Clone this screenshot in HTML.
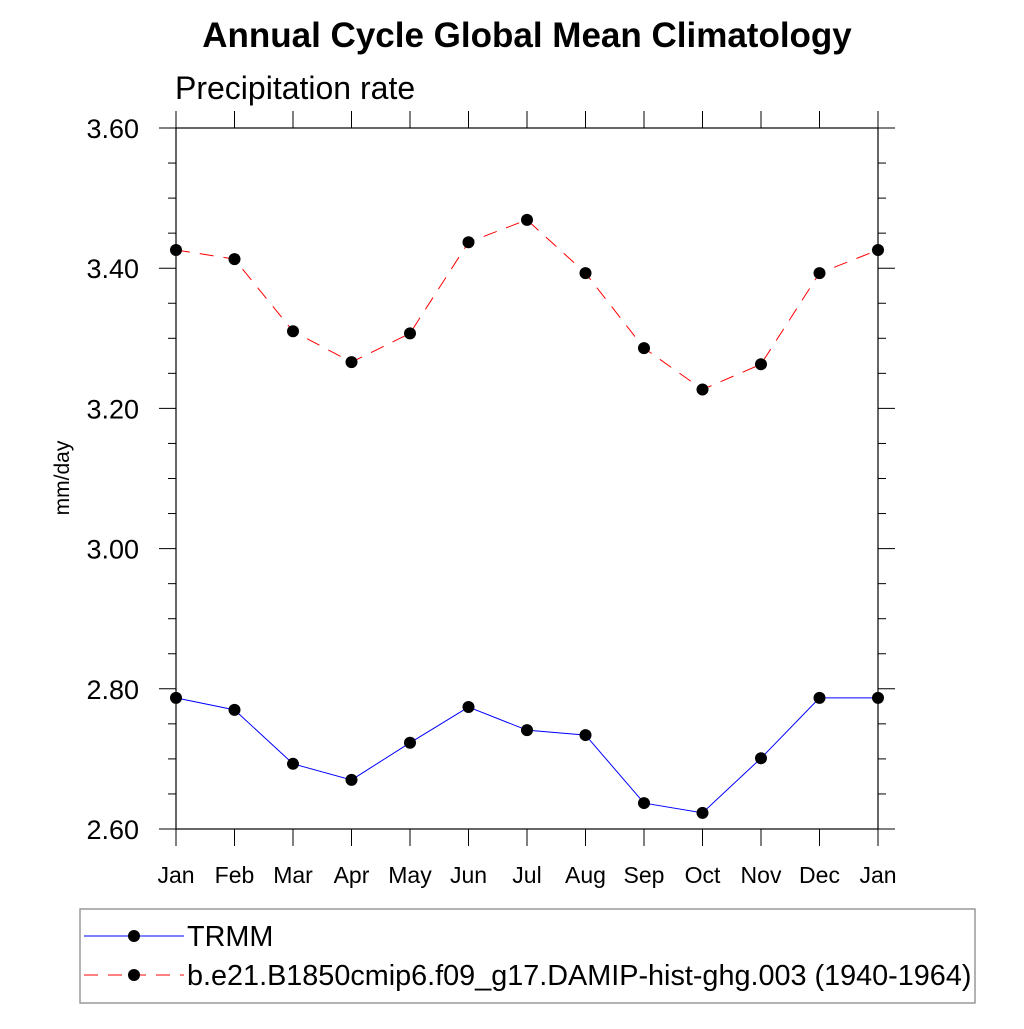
<!DOCTYPE html>
<html><head><meta charset="utf-8"><style>
body{margin:0;background:#fff;}
svg text{font-family:"Liberation Sans",sans-serif;}
</style></head><body>
<svg id="chart" width="1024" height="1024" xmlns="http://www.w3.org/2000/svg">
<text x="527" y="47" font-size="35" font-weight="bold" text-anchor="middle">Annual Cycle Global Mean Climatology</text>
<text x="175" y="99" font-size="32">Precipitation rate</text>
<text transform="translate(69,478) rotate(-90)" font-size="21" text-anchor="middle">mm/day</text>
<g id="axes"></g>
<g id="series"></g>
<rect x="80" y="909" width="895" height="94" fill="none" stroke="#999" stroke-width="1.5"/>
<g>
<line x1="84" y1="936" x2="184" y2="936" stroke="#00f" stroke-width="1"/>
<circle cx="134" cy="936" r="6" fill="#000"/>
<text x="187" y="946" font-size="28.8">TRMM</text>
</g>
<g>
<line x1="84" y1="975" x2="184" y2="975" stroke="#f00" stroke-width="1" stroke-dasharray="14,10"/>
<circle cx="134" cy="975" r="6" fill="#000"/>
<text x="187" y="985" font-size="28.8">b.e21.B1850cmip6.f09_g17.DAMIP-hist-ghg.003 (1940-1964)</text>
</g>
</svg>
<script>
const months=["Jan","Feb","Mar","Apr","May","Jun","Jul","Aug","Sep","Oct","Nov","Dec","Jan"];
const trmm=[2.787,2.770,2.693,2.670,2.723,2.774,2.741,2.734,2.637,2.623,2.701,2.787,2.787];
const model=[3.426,3.413,3.310,3.266,3.307,3.437,3.469,3.393,3.286,3.227,3.263,3.393,3.426];
const yTicks=[2.60,2.80,3.00,3.20,3.40,3.60];
const yMin=2.6,yMax=3.6;
const L=176,R=878,T=128,B=829;
const NS="http://www.w3.org/2000/svg";
const x=i=>L+(R-L)*i/(months.length-1);
const y=v=>B-(v-yMin)/(yMax-yMin)*(B-T);
function mk(t,a,p){const e=document.createElementNS(NS,t);for(const k in a)e.setAttribute(k,a[k]);p.appendChild(e);return e;}
const ax=document.getElementById('axes');
const box=mk('rect',{x:L,y:T,width:R-L,height:B-T,fill:'none',stroke:'#000','stroke-width':1.2},ax);


for(let v=yMin;v<=yMax+1e-9;v+=0.05){
 const major=Math.abs(Math.round(v*5)-v*5)<1e-6;
 const len=major?17:8;
 mk('line',{x1:L-len,y1:y(v),x2:L,y2:y(v),stroke:'#000','stroke-width':1},ax);
 mk('line',{x1:R,y1:y(v),x2:R+len,y2:y(v),stroke:'#000','stroke-width':1},ax);
}
yTicks.forEach(v=>{
 const t=mk('text',{x:139,y:y(v)+10,'font-size':27,'text-anchor':'end'},ax);
 t.textContent=v.toFixed(2);
 
 
});
months.forEach((m,i)=>{
 mk('line',{x1:x(i),y1:B,x2:x(i),y2:B+17,stroke:'#000','stroke-width':1},ax);
 mk('line',{x1:x(i),y1:T-17,x2:x(i),y2:T,stroke:'#000','stroke-width':1},ax);
 const t=mk('text',{x:x(i),y:883,'font-size':23,'text-anchor':'middle'},ax);
 t.textContent=m;
 
 
});
const sg=document.getElementById('series');
function series(vals,color,dash,name){
 const pl=mk('polyline',{points:vals.map((v,i)=>x(i)+','+y(v)).join(' '),fill:'none',stroke:color,'stroke-width':1,'stroke-dasharray':dash},sg);
 
 
 vals.forEach((v,i)=>{
  const c=mk('circle',{cx:x(i),cy:y(v),r:6,fill:'#000'},sg);
  
  
 });
}
series(trmm,'#00f','none','trmm');
series(model,'#f00','14,10','model');
</script>
</body></html>
